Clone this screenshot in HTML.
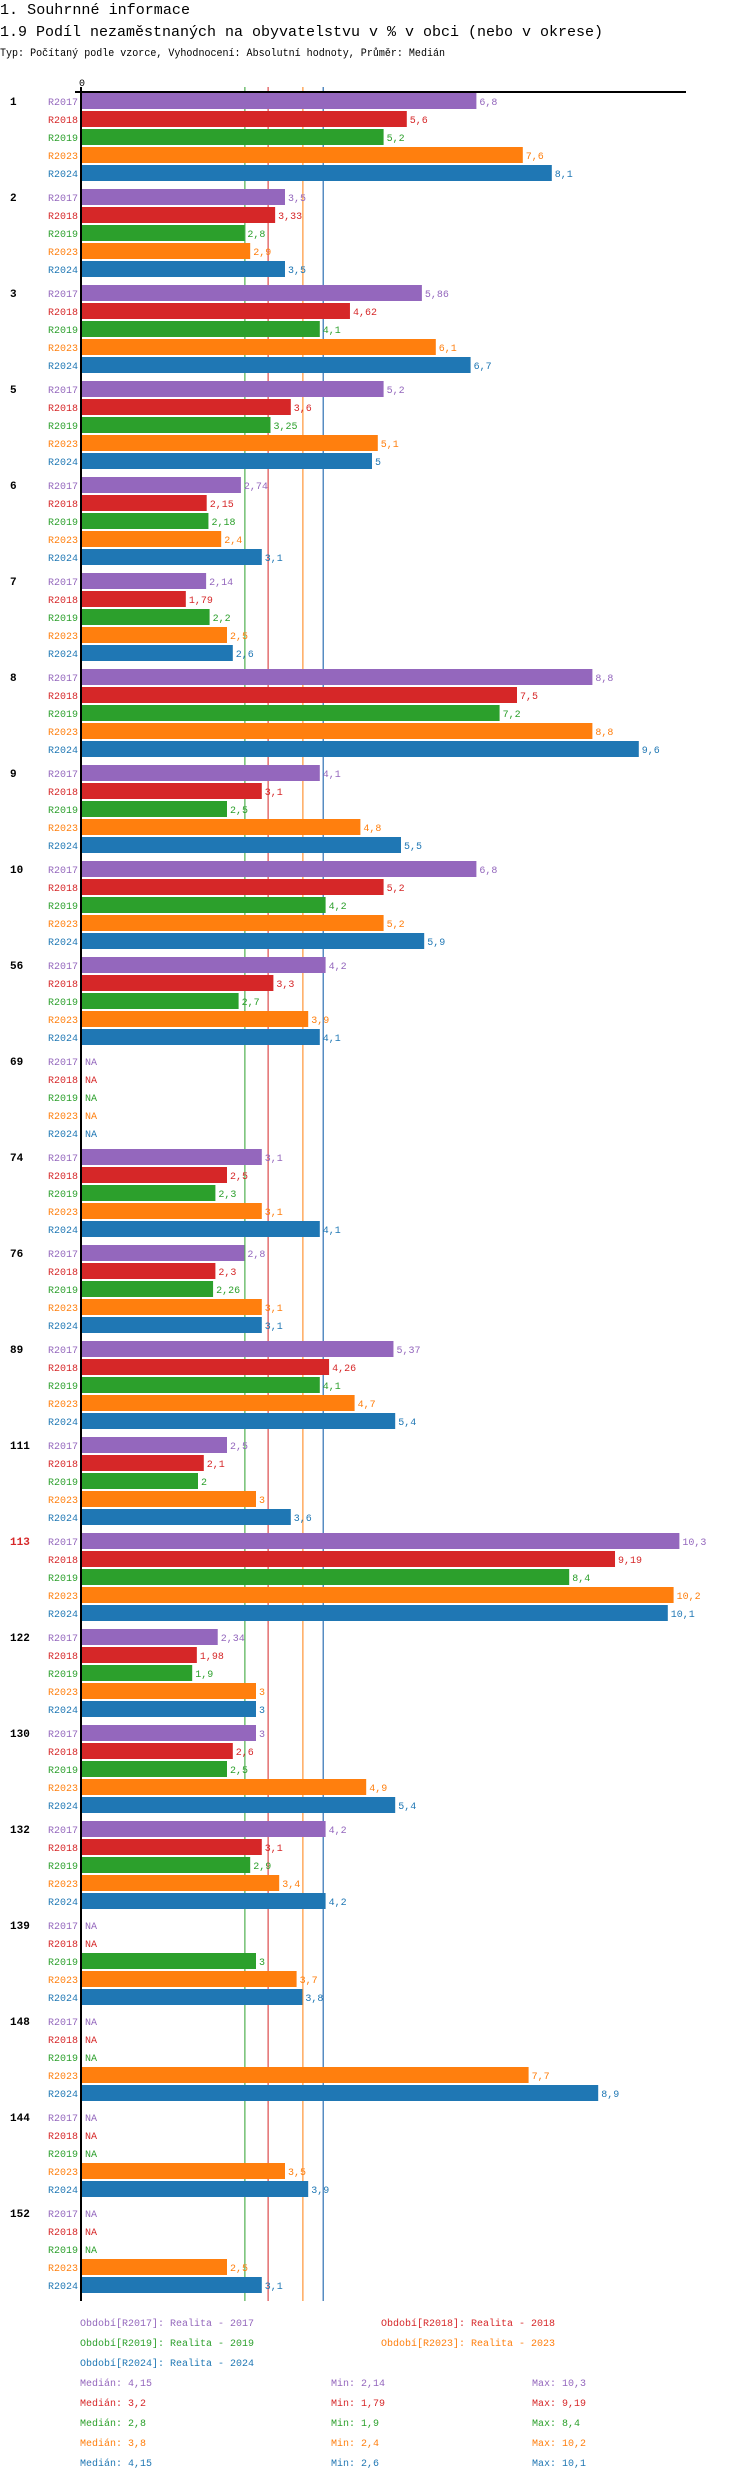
<!DOCTYPE html>
<html><head><meta charset="utf-8"><style>
html,body{margin:0;padding:0;background:#fff;width:750px;height:2480px;overflow:hidden}
svg{display:block}
text{font-family:"Liberation Mono","DejaVu Sans Mono",monospace}
</style></head><body>
<svg id="chart" width="750" height="2480">
<text x="0" y="14" font-size="15" textLength="190" lengthAdjust="spacingAndGlyphs">1. Souhrnné informace</text>
<text x="0" y="36" font-size="15" textLength="603" lengthAdjust="spacingAndGlyphs">1.9 Podíl nezaměstnaných na obyvatelstvu v % v obci (nebo v okrese)</text>
<text x="0" y="56" font-size="11" textLength="445" lengthAdjust="spacingAndGlyphs">Typ: Počítaný podle vzorce, Vyhodnocení: Absolutní hodnoty, Průměr: Medián</text>
<text x="82" y="86" font-size="10" text-anchor="middle">0</text>
<g id="lines"></g>
<g id="bars"></g>
<rect x="75" y="91" width="611" height="2" fill="#000"/>
<rect x="80" y="87" width="2" height="2214" fill="#000"/>
<g id="legend"></g>
</svg>
<script>
const groups = ["1","2","3","5","6","7","8","9","10","56","69","74","76","89","111","113","122","130","132","139","148","144","152"];
const series = ["R2017","R2018","R2019","R2023","R2024"];
const v2017 = [6.8,3.5,5.86,5.2,2.74,2.14,8.8,4.1,6.8,4.2,null,3.1,2.8,5.37,2.5,10.3,2.34,3,4.2,null,null,null,null];
const v2018 = [5.6,3.33,4.62,3.6,2.15,1.79,7.5,3.1,5.2,3.3,null,2.5,2.3,4.26,2.1,9.19,1.98,2.6,3.1,null,null,null,null];
const v2019 = [5.2,2.8,4.1,3.25,2.18,2.2,7.2,2.5,4.2,2.7,null,2.3,2.26,4.1,2,8.4,1.9,2.5,2.9,3,null,null,null];
const v2023 = [7.6,2.9,6.1,5.1,2.4,2.5,8.8,4.8,5.2,3.9,null,3.1,3.1,4.7,3,10.2,3,4.9,3.4,3.7,7.7,3.5,2.5];
const v2024 = [8.1,3.5,6.7,5,3.1,2.6,9.6,5.5,5.9,4.1,null,4.1,3.1,5.4,3.6,10.1,3,5.4,4.2,3.8,8.9,3.9,3.1];
const medians = [4.15,3.2,2.8,3.8,4.15];
const mins = ["2,14","1,79","1,9","2,4","2,6"];
const maxs = ["10,3","9,19","8,4","10,2","10,1"];
const medianLabels = ["4,15","3,2","2,8","3,8","4,15"];
const colors = ["#9467bd","#d62728","#2ca02c","#ff7f0e","#1f77b4"];
const values = [v2017,v2018,v2019,v2023,v2024];
const highlight = "113";

const NS = "http://www.w3.org/2000/svg";
const X0 = 82, SCALE = 58, TOP = 93, GSTEP = 96, RSTEP = 18, BH = 16;
const xs = v => X0 + v * SCALE;
const fmt = v => String(v).replace(".", ",");
function mk(tag, attrs, parent, txt) {
  const e = document.createElementNS(NS, tag);
  for (const k in attrs) e.setAttribute(k, attrs[k]);
  if (txt !== undefined) e.textContent = txt;
  parent.appendChild(e);
  return e;
}
const bars = document.getElementById("bars");
const lines = document.getElementById("lines");
const legend = document.getElementById("legend");

medians.forEach((m, i) => {
  const l = mk("line", {x1: xs(m) + 0.5, x2: xs(m) + 0.5, y1: 87, y2: 2301, stroke: colors[i], "stroke-width": 1}, lines);
  
  
});

groups.forEach((g, gi) => {
  const gy = TOP + gi * GSTEP;
  const gl = mk("text", {x: 10, y: gy + 12, "font-size": 11, "font-weight": "bold", fill: g === highlight ? "#d62728" : "#000"}, bars, g);
  
  
  series.forEach((s, si) => {
    const y = gy + si * RSTEP;
    const v = values[si][gi];
    const sl = mk("text", {x: 78, y: y + 12, "font-size": 10, "text-anchor": "end", fill: colors[si]}, bars, s);
    
    
    if (v === null) {
      const na = mk("text", {x: 85, y: y + 12, "font-size": 10, fill: colors[si]}, bars, "NA");
      
      
    } else {
      const r = mk("rect", {x: X0, y: y, width: xs(v) - X0, height: BH, fill: colors[si]}, bars);
      
      
      const t = mk("text", {x: xs(v) + 3, y: y + 12, "font-size": 10, fill: colors[si]}, bars, fmt(v));
      
      
    }
  });
});

const legPos = [[80, 2326], [381, 2326], [80, 2346], [381, 2346], [80, 2366]];
const years = ["2017","2018","2019","2023","2024"];
series.forEach((s, i) => {
  const t = mk("text", {x: legPos[i][0], y: legPos[i][1], "font-size": 10, fill: colors[i]}, legend, "Období[" + s + "]: Realita - " + years[i]);
  
  
  const y = 2386 + i * 20;
  const a = mk("text", {x: 80, y: y, "font-size": 10, fill: colors[i]}, legend, "Medián: " + medianLabels[i]);
  
  
  const b = mk("text", {x: 331, y: y, "font-size": 10, fill: colors[i]}, legend, "Min: " + mins[i]);
  
  
  const c = mk("text", {x: 532, y: y, "font-size": 10, fill: colors[i]}, legend, "Max: " + maxs[i]);
  
  
});
</script>
</body></html>
